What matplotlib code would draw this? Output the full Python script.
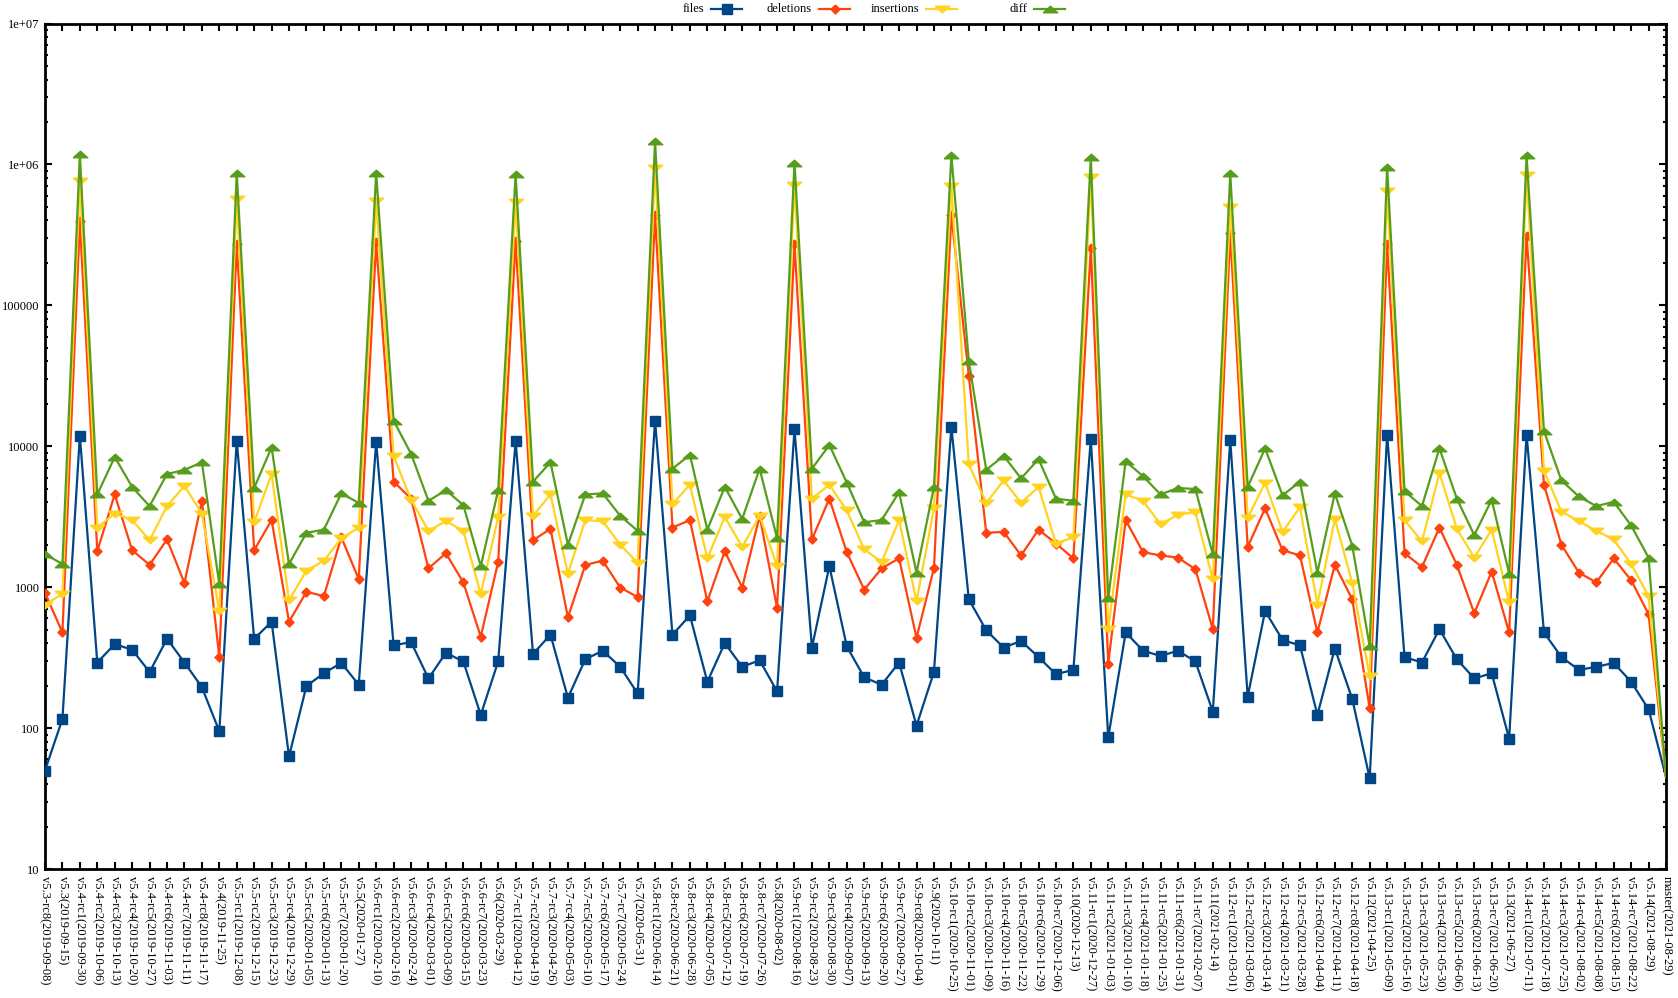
import matplotlib.pyplot as plt
from matplotlib.lines import Line2D
from matplotlib.ticker import FixedLocator, LogLocator, NullFormatter, FuncFormatter

labels = [
    "v5.3-rc8(2019-09-08)", "v5.3(2019-09-15)", "v5.4-rc1(2019-09-30)", "v5.4-rc2(2019-10-06)",
    "v5.4-rc3(2019-10-13)", "v5.4-rc4(2019-10-20)", "v5.4-rc5(2019-10-27)", "v5.4-rc6(2019-11-03)",
    "v5.4-rc7(2019-11-11)", "v5.4-rc8(2019-11-17)", "v5.4(2019-11-25)", "v5.5-rc1(2019-12-08)",
    "v5.5-rc2(2019-12-15)", "v5.5-rc3(2019-12-23)", "v5.5-rc4(2019-12-29)", "v5.5-rc5(2020-01-05)",
    "v5.5-rc6(2020-01-13)", "v5.5-rc7(2020-01-20)", "v5.5(2020-01-27)", "v5.6-rc1(2020-02-10)",
    "v5.6-rc2(2020-02-16)", "v5.6-rc3(2020-02-24)", "v5.6-rc4(2020-03-01)", "v5.6-rc5(2020-03-09)",
    "v5.6-rc6(2020-03-15)", "v5.6-rc7(2020-03-23)", "v5.6(2020-03-29)", "v5.7-rc1(2020-04-12)",
    "v5.7-rc2(2020-04-19)", "v5.7-rc3(2020-04-26)", "v5.7-rc4(2020-05-03)", "v5.7-rc5(2020-05-10)",
    "v5.7-rc6(2020-05-17)", "v5.7-rc7(2020-05-24)", "v5.7(2020-05-31)", "v5.8-rc1(2020-06-14)",
    "v5.8-rc2(2020-06-21)", "v5.8-rc3(2020-06-28)", "v5.8-rc4(2020-07-05)", "v5.8-rc5(2020-07-12)",
    "v5.8-rc6(2020-07-19)", "v5.8-rc7(2020-07-26)", "v5.8(2020-08-02)", "v5.9-rc1(2020-08-16)",
    "v5.9-rc2(2020-08-23)", "v5.9-rc3(2020-08-30)", "v5.9-rc4(2020-09-07)", "v5.9-rc5(2020-09-13)",
    "v5.9-rc6(2020-09-20)", "v5.9-rc7(2020-09-27)", "v5.9-rc8(2020-10-04)", "v5.9(2020-10-11)",
    "v5.10-rc1(2020-10-25)", "v5.10-rc2(2020-11-01)", "v5.10-rc3(2020-11-09)", "v5.10-rc4(2020-11-16)",
    "v5.10-rc5(2020-11-22)", "v5.10-rc6(2020-11-29)", "v5.10-rc7(2020-12-06)", "v5.10(2020-12-13)",
    "v5.11-rc1(2020-12-27)", "v5.11-rc2(2021-01-03)", "v5.11-rc3(2021-01-10)", "v5.11-rc4(2021-01-18)",
    "v5.11-rc5(2021-01-25)", "v5.11-rc6(2021-01-31)", "v5.11-rc7(2021-02-07)", "v5.11(2021-02-14)",
    "v5.12-rc1(2021-03-01)", "v5.12-rc2(2021-03-06)", "v5.12-rc3(2021-03-14)", "v5.12-rc4(2021-03-21)",
    "v5.12-rc5(2021-03-28)", "v5.12-rc6(2021-04-04)", "v5.12-rc7(2021-04-11)", "v5.12-rc8(2021-04-18)",
    "v5.12(2021-04-25)", "v5.13-rc1(2021-05-09)", "v5.13-rc2(2021-05-16)", "v5.13-rc3(2021-05-23)",
    "v5.13-rc4(2021-05-30)", "v5.13-rc5(2021-06-06)", "v5.13-rc6(2021-06-13)", "v5.13-rc7(2021-06-20)",
    "v5.13(2021-06-27)", "v5.14-rc1(2021-07-11)", "v5.14-rc2(2021-07-18)", "v5.14-rc3(2021-07-25)",
    "v5.14-rc4(2021-08-02)", "v5.14-rc5(2021-08-08)", "v5.14-rc6(2021-08-15)", "v5.14-rc7(2021-08-22)",
    "v5.14(2021-08-29)", "master(2021-08-29)",
]

files = [50, 116, 11900, 292, 394, 360, 250, 430, 292, 195, 95, 10900,
         430, 568, 63, 199, 245, 290, 203, 10700, 386, 408, 225, 342,
         297, 124, 297, 10900, 336, 460, 164, 308, 354, 272, 176, 15200,
         460, 630, 213, 401, 272, 303, 182, 13200, 373, 1410, 380, 229,
         203, 292, 104, 250, 13700, 820, 494, 373, 415, 319, 241, 259,
         11300, 86, 477, 354, 325, 354, 297, 131, 11100, 167, 677, 422,
         386, 124, 367, 161, 44, 12100, 319, 292, 503, 308, 225, 245,
         84, 12100, 477, 319, 259, 272, 290, 213, 136, 45]

deletions = [910, 477, 394000, 1800, 4550, 1830, 1440, 2180, 1070, 4100, 319, 272000,
             1830, 2990, 568, 927, 864, 2260, 1140, 280000, 5610, 4250, 1360, 1740,
             1080, 445, 1510, 287000, 2150, 2600, 610, 1440, 1540, 994, 850, 437000,
             2650, 2990, 792, 1800, 994, 3210, 713, 272000, 2180, 4250, 1770, 960,
             1360, 1600, 437, 1360, 437000, 31700, 2430, 2470, 1680, 2560, 2040, 1600,
             254000, 287, 2990, 1770, 1680, 1620, 1340, 503, 325000, 1930, 3630, 1830,
             1680, 477, 1440, 820, 138, 272000, 1740, 1390, 2650, 1440, 653, 1290,
             477, 313000, 5330, 2000, 1270, 1080, 1600, 1120, 643, 45]

insertions = [752, 895, 765000, 2650, 3330, 2990, 2150, 3760, 5230, 3330, 677, 568000,
              2890, 6350, 805, 1310, 1540, 2220, 2650, 548000, 8550, 4170, 2510, 2940,
              2510, 895, 3150, 539000, 3210, 4550, 1250, 2990, 2940, 2000, 1490, 944000,
              3890, 5330, 1600, 3150, 1930, 3210, 1410, 713000, 4250, 5330, 3500, 1860,
              1510, 2990, 792, 3630, 702000, 7430, 3960, 5720, 3960, 5140, 2040, 2260,
              820000, 503, 4550, 4100, 2790, 3270, 3400, 1140, 502000, 3100, 5520, 2470,
              3690, 752, 3050, 1070, 233, 643000, 2990, 2110, 6460, 2600, 1620, 2560,
              780, 835000, 6680, 3440, 2940, 2510, 2180, 1460, 864, 45]

diff = [1710, 1460, 1180000, 4550, 8390, 5140, 3760, 6350, 6800, 7690, 1050, 865000,
        5060, 9820, 1460, 2430, 2560, 4630, 3960, 865000, 15200, 8850, 4100, 4880,
        3820, 1410, 4880, 850000, 5610, 7690, 2000, 4550, 4630, 3210, 2510, 1460000,
        6930, 8690, 2560, 5140, 3050, 6930, 2220, 1030000, 6930, 10200, 5520, 2890,
        2990, 4720, 1270, 5140, 1160000, 40500, 6800, 8550, 5910, 8110, 4250, 4100,
        1120000, 835, 7830, 6120, 4550, 5060, 4970, 1710, 865000, 5140, 9660, 4480,
        5610, 1270, 4630, 1970, 380, 960000, 4800, 3760, 9660, 4250, 2340, 4170,
        1250, 1160000, 12800, 5720, 4400, 3760, 4030, 2740, 1620, 45]

plt.rcParams['font.family'] = ['Liberation Serif', 'DejaVu Serif']
plt.rcParams['font.size'] = 9

W, H = 1678, 998
fig = plt.figure(figsize=(W / 100, H / 100), dpi=100)
ax = fig.add_axes([45 / W, 1 - 869 / H, (1666 - 45) / W, (869 - 23.5) / H])

# gnuplot style markers: flat triangles, diamond
tri_up = [(-1, -0.45), (1, -0.45), (0, 0.45), (-1, -0.45)]
tri_dn = [(-1, 0.45), (1, 0.45), (0, -0.45), (-1, 0.45)]
diamond = [(0, 1), (1, 0), (0, -1), (-1, 0), (0, 1)]

x = list(range(len(labels)))
marks = list(range(len(labels) - 1))

series = [
    ("files", files, "#004586", "s", 7),
    ("deletions", deletions, "#ff420e", diamond, 6.5),
    ("insertions", insertions, "#ffd320", tri_dn, 10.5),
    ("diff", diff, "#579d1c", tri_up, 10.5),
]
for i, (name, vals, col, mk, ms) in enumerate(series):
    ax.plot(x, vals, color=col, lw=1.6, marker=mk, markersize=ms, markevery=marks,
            label=name, zorder=3 + i)

ax.set_yscale('log')
ax.set_ylim(10, 1e7)
ax.set_xlim(0, len(labels) - 1)

ylab = {10: "10", 100: "100", 1000: "1000", 10000: "10000", 100000: "100000",
        1e6: "1e+06", 1e7: "1e+07"}
ax.yaxis.set_major_locator(FixedLocator(list(ylab.keys())))
ax.yaxis.set_major_formatter(FuncFormatter(lambda v, p: ylab.get(round(v), "")))
ax.yaxis.set_minor_locator(LogLocator(base=10, subs=range(2, 10), numticks=20))
ax.yaxis.set_minor_formatter(NullFormatter())

ax.set_xticks(x)
ax.set_xticklabels(labels, rotation=270, ha='center', va='top')

ax.tick_params(which='both', direction='in', top=True, right=True, width=1.5)
ax.tick_params(which='major', length=5)
ax.tick_params(axis='x', which='major', pad=5)
ax.tick_params(axis='y', which='major', pad=4)
ax.tick_params(which='minor', length=2.5)
for s in ax.spines.values():
    s.set_linewidth(2)

# gnuplot-like key above the plot: right-aligned text then sample
key_right = [704, 812, 919, 1027]
ky = 1 - 9 / H
for (name, vals, col, mk, ms), xr in zip(series, key_right):
    fig.text(xr / W, ky, name, ha='right', va='center', fontsize=9)
    x0, x1 = (xr + 7) / W, (xr + 38) / W
    fig.add_artist(Line2D([x0, x1], [ky, ky], transform=fig.transFigure, color=col, lw=1.6))
    fig.add_artist(Line2D([(x0 + x1) / 2], [ky], transform=fig.transFigure, color=col,
                          marker=mk, markersize=ms, lw=0))

fig.savefig("out.png", dpi=100)
